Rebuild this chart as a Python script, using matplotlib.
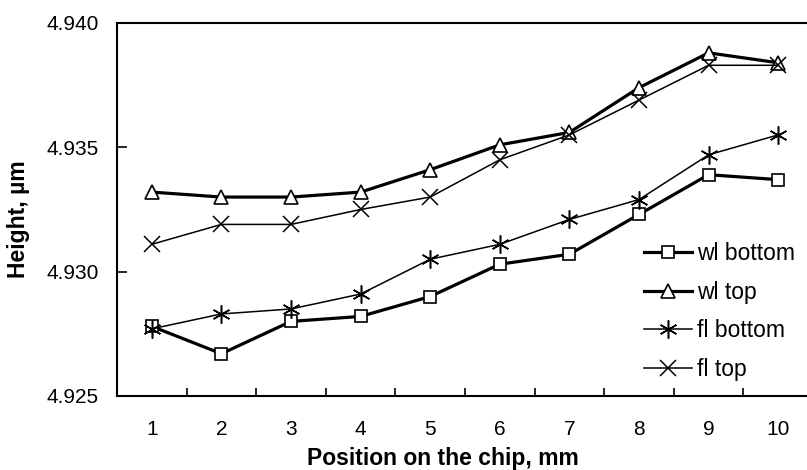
import matplotlib
matplotlib.use("Agg")
import matplotlib.pyplot as plt

plt.rcParams['font.family'] = ['Liberation Sans', 'DejaVu Sans']

positions = [1, 2, 3, 4, 5, 6, 7, 8, 9, 10]
wl_bottom = [4.9278, 4.9267, 4.9280, 4.9282, 4.9290, 4.9303, 4.9307, 4.9323, 4.9339, 4.9337]
wl_top = [4.9332, 4.9330, 4.9330, 4.9332, 4.9341, 4.9351, 4.9356, 4.9374, 4.9388, 4.9384]
fl_bottom = [4.9277, 4.9283, 4.9285, 4.9291, 4.9305, 4.9311, 4.9321, 4.9329, 4.9347, 4.9355]
fl_top = [4.9311, 4.9319, 4.9319, 4.9325, 4.9330, 4.9345, 4.9355, 4.9369, 4.9383, 4.9383]

fig = plt.figure(figsize=(8.07, 4.70), dpi=100)
ax = fig.add_axes([117 / 807, 1 - 396 / 470, 696 / 807, 373 / 470])

ax.plot(positions, wl_bottom, color='black', lw=2.3, marker='s', ms=9,
        mfc='white', mec='black', mew=1.2, label='wl bottom')
ax.plot(positions, wl_top, color='black', lw=2.3, marker='^', ms=10,
        mfc='white', mec='black', mew=1.2, label='wl top')
ax.plot(positions, fl_bottom, color='black', lw=1.1, marker=(6, 2, 0), ms=13,
        mec='black', mew=1.1, label='fl bottom')
ax.plot(positions, fl_top, color='black', lw=1.1, marker='x', ms=12,
        mec='black', mew=1.1, label='fl top')

ax.set_xlim(0.5, 10.5)
ax.set_ylim(4.925, 4.940)
ax.set_yticks([4.925, 4.930, 4.935, 4.940])
ax.set_yticklabels(['4.925', '4.930', '4.935', '4.940'])
ax.set_xticks(positions)
ax.set_xticks([p + 0.5 for p in positions[:-1]], minor=True)
ax.tick_params(axis='x', which='major', length=0, pad=17, labelsize=15)
ax.tick_params(axis='x', which='minor', direction='in', length=6, width=1.2)
ax.tick_params(axis='y', direction='in', length=7, width=1.2, pad=13, labelsize=15)

for s in ['left', 'top', 'bottom']:
    ax.spines[s].set_linewidth(1.5)
ax.spines['right'].set_visible(False)

fig.text(443 / 807, 1 - 458 / 470, 'Position on the chip, mm', ha='center', va='center',
         fontsize=16.5, fontweight='bold')
fig.text(19 / 807, 1 - 219 / 470, 'Height, µm', ha='center', va='center',
         rotation=90, fontsize=16.5, fontweight='bold')

ax.legend(loc='upper left', bbox_to_anchor=(644 / 807, 1 - 242 / 470),
          bbox_transform=fig.transFigure, frameon=False, fontsize=16.5,
          handlelength=2.1, handletextpad=0.2, labelspacing=0.68, borderaxespad=0,
          borderpad=0)

fig.savefig('out.png', dpi=100)
